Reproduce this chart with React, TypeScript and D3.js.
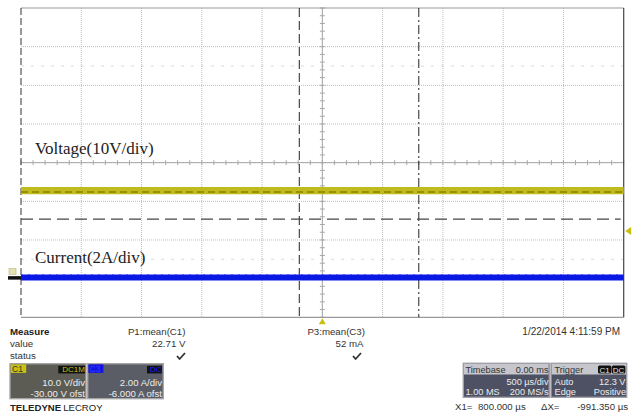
import React from "react";
import * as d3 from "d3";

const W = 639;
const H = 413;

// Acquisition / channel settings
const timePerDiv = 500; // µs per division
const hDivs = 10;
const vDivs = 8;
const voltsPerDiv = 10;
const voltOffset = -30; // V
const ampsPerDiv = 2;
const ampOffset = -6; // A

// Traces: mean level and noise envelope
const voltageMean = 22.71;
const voltageBand = [21.8, 23.7];
const currentMean = 0.052;
const currentBand = [-0.1, 0.21];

// Trigger and cursors
const triggerLevel = 12.3; // V
const triggerTime = 0; // µs
const cursorX1 = 800; // µs
const cursorDeltaX = -991.35; // µs
const cursorLevel = 15.4; // V

// Readout texts
const measureRows = ["Measure", "value", "status"];
const measureP1 = ["P1:mean(C1)", "22.71 V"];
const measureP3 = ["P3:mean(C3)", "52 mA"];
const timestamp = "1/22/2014 4:11:59 PM";
const c1Readout = ["10.0 V/div", "-30.00 V ofst"];
const c3Readout = ["2.00 A/div", "-6.000 A ofst"];
const timebaseReadout = ["Timebase", "0.00 ms", "500 µs/div", "1.00 MS", "200 MS/s"];
const triggerReadout = ["Trigger", "Auto", "12.3 V", "Edge", "Positive"];

const SANS = "'Liberation Sans', Arial, sans-serif";
const SERIF = "'Liberation Serif', 'Times New Roman', serif";

const plot = { left: 21, right: 623.7, top: 8, bottom: 317.3 };

const x = d3
  .scaleLinear()
  .domain([(-hDivs / 2) * timePerDiv, (hDivs / 2) * timePerDiv])
  .range([plot.left, plot.right]);

const vCenter = -voltOffset;
const yV = d3
  .scaleLinear()
  .domain([vCenter - (vDivs / 2) * voltsPerDiv, vCenter + (vDivs / 2) * voltsPerDiv])
  .range([plot.bottom, plot.top]);

const iCenter = -ampOffset;
const yI = d3
  .scaleLinear()
  .domain([iCenter - (vDivs / 2) * ampsPerDiv, iCenter + (vDivs / 2) * ampsPerDiv])
  .range([plot.bottom, plot.top]);

const tMin = x.domain()[0];
const tMax = x.domain()[1];
const vMin = yV.domain()[0];

const xDivs = d3.range(hDivs + 1).map((i) => x(tMin + i * timePerDiv));
const yDivs = d3.range(vDivs + 1).map((i) => yV(vMin + i * voltsPerDiv));
const xCenter = x(0);
const yMid = yV(vCenter);
const xMinor = d3.range(hDivs * 5 + 1).map((i) => x(tMin + (i * timePerDiv) / 5));
const yMinor = d3.range(vDivs * 5 + 1).map((i) => yV(vMin + (i * voltsPerDiv) / 5));

const bandArea = (scale: d3.ScaleLinear<number, number>, band: number[]) =>
  d3
    .area<number>()
    .x((t) => x(t))
    .y0(() => scale(band[0]))
    .y1(() => scale(band[1]))([tMin, tMax]) as string;

const meanLine = (scale: d3.ScaleLinear<number, number>, v: number) =>
  d3
    .line<number>()
    .x((t) => x(t))
    .y(() => scale(v))([tMin, tMax]) as string;

function Check({ x0, y0 }: { x0: number; y0: number }) {
  return (
    <path
      d={`M${x0},${y0 + 3} L${x0 + 2.6},${y0 + 6} L${x0 + 8},${y0}`}
      fill="none"
      stroke="#333"
      strokeWidth={1.8}
      strokeLinejoin="round"
    />
  );
}

export default function App() {
  const x1 = x(cursorX1);
  const x2 = x(cursorX1 + cursorDeltaX);
  const yCur = yV(cursorLevel);
  const yTrig = yV(triggerLevel);
  const xTrig = x(triggerTime);
  const yZero = yI(0);

  return (
    <svg
      width={W}
      height={H}
      style={{ position: "fixed", left: 0, top: 0, background: "#fff" }}
      fontFamily={SANS}
    >
      <rect x={0} y={0} width={W} height={H} fill="#fff" />

      {/* faint half-division rows */}
      {[yV(vMin + 6.5 * voltsPerDiv), yV(vMin + 1.5 * voltsPerDiv)].map((y, i) => (
        <line key={"h" + i} x1={plot.left} x2={plot.right} y1={y} y2={y} stroke="#dadada" strokeDasharray="3,7" />
      ))}

      {/* grid */}
      {xDivs.slice(1, -1).map((gx, i) => (
        <line key={"gx" + i} x1={gx} x2={gx} y1={plot.top} y2={plot.bottom} stroke="#bdbdbd" strokeDasharray="1,1" />
      ))}
      {yDivs.slice(1, -1).map((gy, i) => (
        <line key={"gy" + i} x1={plot.left} x2={plot.right} y1={gy} y2={gy} stroke="#bdbdbd" strokeDasharray="1,1" />
      ))}

      {/* center axes with minor ticks */}
      <line x1={plot.left} x2={plot.right} y1={yMid} y2={yMid} stroke="#a8a8a8" />
      <line x1={xCenter} x2={xCenter} y1={plot.top} y2={plot.bottom} stroke="#a8a8a8" />
      {xMinor.map((mx, i) => (
        <line key={"mx" + i} x1={mx} x2={mx} y1={yMid - 2.5} y2={yMid + 2.5} stroke="#a8a8a8" />
      ))}
      {yMinor.map((my, i) => (
        <line key={"my" + i} x1={xCenter - 2.5} x2={xCenter + 2.5} y1={my} y2={my} stroke="#a8a8a8" />
      ))}

      {/* frame */}
      <line x1={plot.left} x2={plot.right} y1={plot.top} y2={plot.top} stroke="#9a9a9a" strokeWidth={1.2} />
      <line x1={plot.left} x2={plot.right} y1={plot.bottom} y2={plot.bottom} stroke="#9a9a9a" strokeWidth={1.2} />
      <line x1={plot.left} x2={plot.left} y1={plot.top} y2={plot.bottom} stroke="#333" strokeDasharray="7,3" />
      <line x1={plot.right} x2={plot.right} y1={plot.top} y2={plot.bottom} stroke="#444" strokeWidth={1.2} />

      {/* cursors */}
      <line x1={x2} x2={x2} y1={plot.top} y2={plot.bottom} stroke="#222" strokeDasharray="9,4" />
      <line x1={x1} x2={x1} y1={plot.top} y2={plot.bottom} stroke="#222" strokeDasharray="9,3,2,3" />
      <line x1={plot.left} x2={plot.right - 3} y1={yCur} y2={yCur} stroke="#444" strokeWidth={1.2} strokeDasharray="12,6" />

      {/* C1 voltage trace */}
      <path d={bandArea(yV, voltageBand)} fill="#c0ba1c" />
      <path d={meanLine(yV, voltageMean - 0.3)} stroke="#8a8400" strokeWidth={1.6} strokeDasharray="7,4" fill="none" />

      {/* C3 current trace */}
      <path d={bandArea(yI, currentBand)} fill="#0a18e4" />
      <path d={meanLine(yI, currentBand[1])} stroke="#3a48ff" strokeWidth={0.8} strokeDasharray="2,5" fill="none" />

      {/* channel ground marker */}
      <rect x={8} y={yZero - 2.5} width={13} height={3.5} fill="#111" />
      <rect x={9} y={yZero - 10} width={7} height={6} fill="#e6e2b0" stroke="#b8b480" strokeWidth={0.6} />

      {/* trigger markers */}
      <path d={`M${plot.right + 1.5},${yTrig} L${plot.right + 7.5},${yTrig - 4} L${plot.right + 7.5},${yTrig + 4} Z`} fill="#c8c010" />
      <path d={`M${xTrig},${plot.bottom + 1} L${xTrig - 3.5},${plot.bottom + 7} L${xTrig + 3.5},${plot.bottom + 7} Z`} fill="#c8c010" />

      {/* annotations */}
      <text x={35} y={154} fontFamily={SERIF} fontSize={17} fill="#222">Voltage(10V/div)</text>
      <text x={35} y={263} fontFamily={SERIF} fontSize={17} fill="#222">Current(2A/div)</text>

      {/* measurement table */}
      <text x={10} y={335} fontSize={9.7} fontWeight="bold" fill="#222">{measureRows[0]}</text>
      <text x={10} y={347} fontSize={9.7} fill="#333">{measureRows[1]}</text>
      <text x={10} y={359} fontSize={9.7} fill="#333">{measureRows[2]}</text>
      <text x={185.5} y={335} fontSize={9.7} fill="#333" textAnchor="end">{measureP1[0]}</text>
      <text x={185.5} y={347} fontSize={9.7} fill="#333" textAnchor="end">{measureP1[1]}</text>
      <Check x0={177} y0={353} />
      <text x={365} y={335} fontSize={9.7} fill="#333" textAnchor="end">{measureP3[0]}</text>
      <text x={363.5} y={347} fontSize={9.7} fill="#333" textAnchor="end">{measureP3[1]}</text>
      <Check x0={353} y0={353} />
      <text x={620} y={335} fontSize={10} fill="#333" textAnchor="end">{timestamp}</text>

      {/* C1 descriptor */}
      <rect x={10} y={363.7} width={76} height={35} fill="#5c5c54" stroke="#a6a6a6" strokeWidth={1.4} />
      <rect x={10.7} y={364.4} width={15.5} height={8.5} fill="#c8c012" />
      <text x={12} y={371.8} fontSize={8.5} fill="#333">C1</text>
      <rect x={58.3} y={365.8} width={26.8} height={7.6} fill="#111" />
      <text x={84.8} y={372.4} fontSize={8} fill="#c8c012" textAnchor="end">DC1M</text>
      <text x={85} y={386} fontSize={9.6} fill="#ececec" textAnchor="end">{c1Readout[0]}</text>
      <text x={85} y={397} fontSize={9.6} fill="#ececec" textAnchor="end">{c1Readout[1]}</text>

      {/* C3 descriptor */}
      <rect x={87.7} y={363.7} width={75.6} height={35} fill="#5a5d66" stroke="#a6a6a6" strokeWidth={1.4} />
      <rect x={88.4} y={364.4} width={15} height={8.5} fill="#1414e0" />
      <text x={89.5} y={371.8} fontSize={8.5} fill="#3040ff">C3</text>
      <rect x={147} y={365.8} width={14.8} height={7.6} fill="#111" />
      <text x={161.6} y={372.4} fontSize={8} fill="#1a1aff" textAnchor="end">DC</text>
      <text x={162} y={386} fontSize={9.6} fill="#ececec" textAnchor="end">{c3Readout[0]}</text>
      <text x={162} y={397} fontSize={9.6} fill="#ececec" textAnchor="end">{c3Readout[1]}</text>

      {/* vendor mark */}
      <text x={10} y={410.5} fontSize={9.6} fill="#222">
        <tspan fontWeight="bold">TELEDYNE</tspan>
        <tspan dx={2}>LECROY</tspan>
      </text>

      {/* timebase descriptor */}
      <rect x={463.3} y={363.3} width={86} height={34} fill="#4d5163" stroke="#a0a0a8" strokeWidth={1.4} />
      <rect x={464} y={364} width={84.6} height={10.5} fill="#c6c6cc" />
      <text x={465.5} y={372.5} fontSize={9.2} fill="#333">{timebaseReadout[0]}</text>
      <text x={548.5} y={372.5} fontSize={9.2} fill="#333" textAnchor="end">{timebaseReadout[1]}</text>
      <text x={548.5} y={384.5} fontSize={9.2} fill="#ececec" textAnchor="end">{timebaseReadout[2]}</text>
      <text x={465.5} y={394.5} fontSize={9.2} fill="#ececec">{timebaseReadout[3]}</text>
      <text x={548.5} y={394.5} fontSize={9.2} fill="#ececec" textAnchor="end">{timebaseReadout[4]}</text>

      {/* trigger descriptor */}
      <rect x={551} y={363.3} width={75.7} height={34} fill="#4d5163" stroke="#a0a0a8" strokeWidth={1.4} />
      <rect x={551.7} y={364} width={74.3} height={10.5} fill="#c6c6cc" />
      <text x={554.5} y={372.5} fontSize={9.2} fill="#333">{triggerReadout[0]}</text>
      <rect x={598} y={365.6} width={13.4} height={8} rx={1.5} fill="#111" />
      <text x={604.7} y={372.6} fontSize={8} fill="#e0e0e0" textAnchor="middle">C1</text>
      <rect x={611.8} y={365.6} width={13.6} height={8} rx={1.5} fill="#111" />
      <text x={618.6} y={372.6} fontSize={8} fill="#e0e0e0" textAnchor="middle">DC</text>
      <text x={554.5} y={384.5} fontSize={9.2} fill="#ececec">{triggerReadout[1]}</text>
      <text x={625.5} y={384.5} fontSize={9.2} fill="#ececec" textAnchor="end">{triggerReadout[2]}</text>
      <text x={554.5} y={394.5} fontSize={9.2} fill="#ececec">{triggerReadout[3]}</text>
      <text x={626} y={394.5} fontSize={9.2} fill="#ececec" textAnchor="end">{triggerReadout[4]}</text>

      {/* cursor readout */}
      <text x={455} y={409.5} fontSize={9.6} fill="#333">X1=</text>
      <text x={478} y={409.5} fontSize={9.6} fill="#333">{cursorX1.toFixed(3)} µs</text>
      <text x={541} y={409.5} fontSize={9.6} fill="#333">ΔX=</text>
      <text x={628} y={409.5} fontSize={9.6} fill="#333" textAnchor="end">{cursorDeltaX.toFixed(3)} µs</text>
    </svg>
  );
}
